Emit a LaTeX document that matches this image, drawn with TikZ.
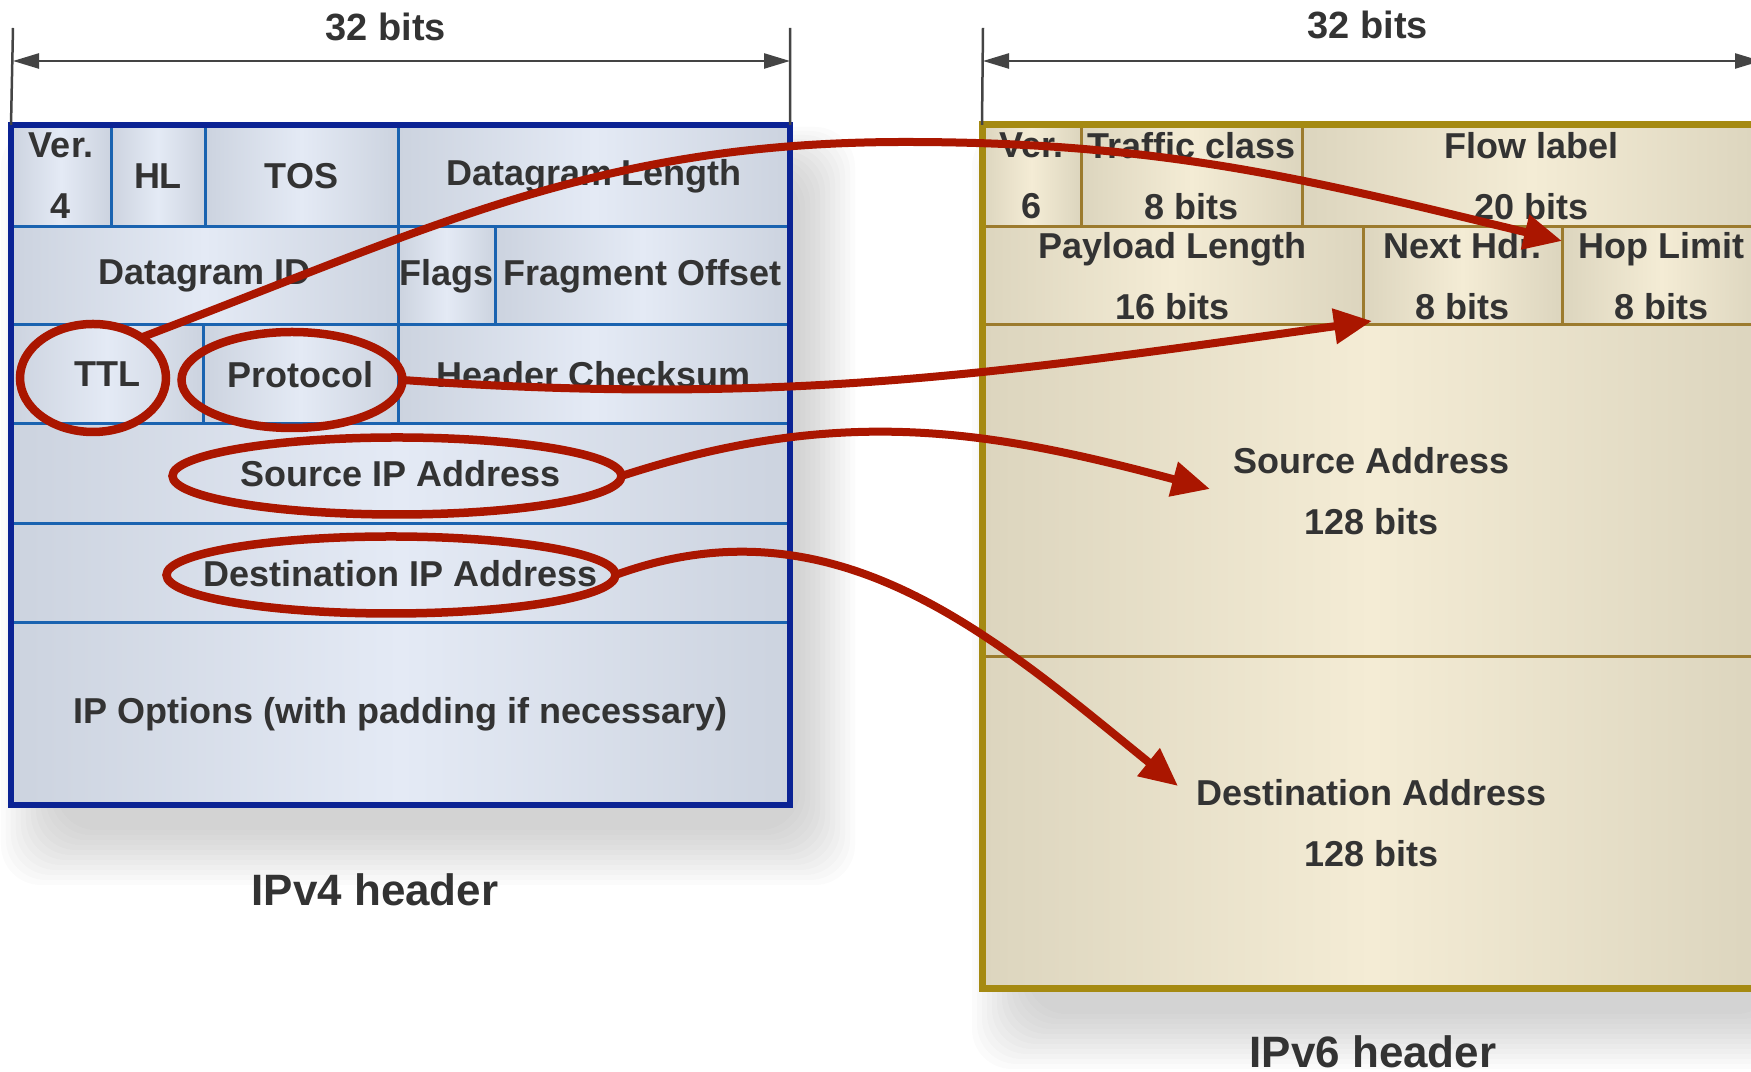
\documentclass[tikz,border=0pt]{standalone}
\usepackage{fontspec}
\setsansfont{Liberation Sans}
\usetikzlibrary{arrows.meta, shapes.geometric}
\definecolor{cnavy}{HTML}{0B2394}
\definecolor{cblue}{HTML}{1A63B0}
\definecolor{cblueE}{HTML}{CCD3DF}
\definecolor{cblueM}{HTML}{E4EAF5}
\definecolor{cgold}{HTML}{A58A12}
\definecolor{cbrown}{HTML}{9C7B2E}
\definecolor{cbeigeE}{HTML}{DCD5BE}
\definecolor{cbeigeM}{HTML}{F4ECD5}
\definecolor{cred}{HTML}{AA1600}
\definecolor{ctext}{HTML}{333333}
\definecolor{cgrey}{HTML}{444444}
\tikzset{
  every picture/.style={font=\sffamily\bfseries},
  field/.style={draw=#1, line width=0.03cm, inner sep=0pt, outer sep=0pt, anchor=north west,
    align=center, text=ctext, font=\sffamily\bfseries\fontsize{10.24}{17.4}\selectfont},
  v4field/.style={field=cblue, left color=cblueE, right color=cblueE, middle color=cblueM},
  v6field/.style={field=cbrown, left color=cbeigeE, right color=cbeigeE, middle color=cbeigeM},
  ring/.style={ellipse, draw=cred, line width=0.085cm, inner sep=0pt, outer sep=0pt},
  link/.style={draw=cred, line width=0.08cm, -{Triangle[length=0.38cm, width=0.34cm]}},
  dim/.style={draw=cgrey, line width=0.025cm},
  dimlabel/.style={text=ctext, font=\sffamily\bfseries\fontsize{10.8}{13}\selectfont},
  caption/.style={text=ctext, font=\sffamily\bfseries\fontsize{12.5}{15}\selectfont},
}

\begin{document}
\begin{tikzpicture}
  \useasboundingbox (0,0) rectangle (17.51,-10.72);
  % soft shadows under both headers
  \foreach \k in {1,...,12} {
    \fill[black, opacity=0.014, rounded corners=0.4cm] (0.61-\k*0.05,-1.75+\k*0.04) rectangle (7.95+\k*0.05,-8.25-\k*0.05);
    \fill[black, opacity=0.014, rounded corners=0.4cm] (10.32-\k*0.05,-1.75+\k*0.04) rectangle (17.71+\k*0.05,-10.09-\k*0.05);
  }
  % IPv4 header
  \foreach \n/\x/\y/\w/\h/\t in {
     ver4/0.11/-1.25/1.00/1.02/{Ver.\\4}, hl/1.11/-1.25/0.94/1.02/HL, tos/2.05/-1.25/1.93/1.02/TOS,
     dlen/3.98/-1.25/3.92/1.02/Datagram Length,
     did/0.11/-2.27/3.87/0.98/Datagram ID, flags/3.98/-2.27/0.97/0.98/Flags, frag/4.95/-2.27/2.95/0.98/Fragment Offset,
     ttl/0.11/-3.25/1.92/0.99/TTL, prot/2.03/-3.25/1.95/0.99/Protocol, csum/3.98/-3.25/3.92/0.99/Header Checksum,
     src4/0.11/-4.24/7.79/1.00/Source IP Address,
     dst4/0.11/-5.24/7.79/0.99/Destination IP Address,
     opts/0.11/-6.23/7.79/1.82/IP Options (with padding if necessary)} {
    \node[v4field, minimum width=\w cm, minimum height=\h cm] (\n) at (\x,\y) {\t};
  }
  \draw[cnavy, line width=0.06cm] (ver4.north west) rectangle (opts.south east);
  % IPv6 header
  \foreach \n/\x/\y/\w/\h/\t in {
     ver6/9.82/-1.25/0.99/1.02/{Ver.\\6}, tcls/10.81/-1.25/2.21/1.02/{Traffic class\\8 bits},
     flow/13.02/-1.25/4.59/1.02/{Flow label\\20 bits},
     plen/9.82/-2.27/3.81/0.98/{Payload Length\\16 bits}, nhdr/13.63/-2.27/1.99/0.98/{Next Hdr.\\8 bits},
     hop/15.62/-2.27/1.99/0.98/{Hop Limit\\8 bits},
     src6/9.82/-3.25/7.79/3.32/{Source Address\\128 bits},
     dst6/9.82/-6.57/7.79/3.32/{Destination Address\\128 bits}} {
    \node[v6field, minimum width=\w cm, minimum height=\h cm] (\n) at (\x,\y) {\t};
  }
  \draw[cgold, line width=0.07cm] (ver6.north west) rectangle (dst6.south east);
  % widths
  \coordinate (l4) at (0.13,-0.61);
  \coordinate (r4) at (7.90,-0.61);
  \coordinate (l6) at (9.83,-0.61);
  \coordinate (r6) at (17.61,-0.61);
  \draw[dim] (0.13,-0.28) -- (ver4.north west);
  \draw[dim] (7.90,-0.28) -- (dlen.north east);
  \draw[dim] (9.83,-0.28) -- (ver6.north west);
  \draw[dim, {Triangle[length=0.26cm, width=0.15cm]}-{Triangle[length=0.26cm, width=0.15cm]}] (l4) -- (r4);
  \draw[dim, {Triangle[length=0.26cm, width=0.15cm]}-{Triangle[length=0.26cm, width=0.15cm]}] (l6) -- (r6);
  \node[dimlabel] (w4) at (3.86,-0.27) {32 bits};
  \node[dimlabel] (w6) at (13.68,-0.25) {32 bits};
  \node[caption] (cap4) at (3.75,-8.90) {IPv4 header};
  \node[caption] (cap6) at (13.73,-10.52) {IPv6 header};
  % fields carried over
  \node[ring, minimum width=1.46cm, minimum height=1.08cm] (ttlring) at (0.93,-3.78) {};
  \node[ring, minimum width=2.21cm, minimum height=0.96cm] (protring) at (2.92,-3.80) {};
  \node[ring, minimum width=4.49cm, minimum height=0.77cm] (srcring) at (3.97,-4.76) {};
  \node[ring, minimum width=4.49cm, minimum height=0.77cm] (dstring) at (3.91,-5.75) {};
  \coordinate (hoptip) at (15.62,-2.41);
  \coordinate (nexttip) at (13.72,-3.21);
  \coordinate (srctip) at (12.10,-4.89);
  \coordinate (dsttip) at (11.78,-7.86);
  \draw[link] (ttlring.40) .. controls (4.33,-2.27) and (5.98,-1.42) .. (9.05,-1.42)
    .. controls (11.64,-1.42) and (13.10,-1.80) .. (hoptip);
  \draw[link] (protring.east) to[out=-4, in=188] (nexttip);
  \draw[link] (srcring.east) to[out=18, in=165] (srctip);
  \draw[link] (dstring.east) to[out=20, in=141] (dsttip);
\end{tikzpicture}
\end{document}
